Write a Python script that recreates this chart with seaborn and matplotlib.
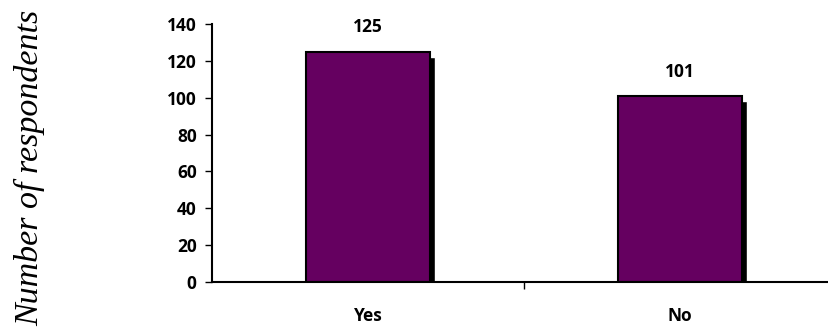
import matplotlib
matplotlib.use("Agg")
import matplotlib.pyplot as plt
import matplotlib.transforms as mtransforms
import seaborn as sns
import pandas as pd

categories = ["Yes", "No"]
respondents = [125, 101]
y_ticks = [0, 20, 40, 60, 80, 100, 120, 140]

sns.set_style("white", {"text.color": "black", "xtick.color": "black",
                        "ytick.color": "black", "axes.labelcolor": "black"})
plt.rcParams["font.family"] = ["Open Sans", "DejaVu Sans"]

df = pd.DataFrame({"answer": categories, "count": respondents})

fig = plt.figure(figsize=(8.29, 3.36), dpi=100)
ax = fig.add_axes([212 / 829, 54 / 336, 624 / 829, 258 / 336])

# drop shadow behind each bar, shifted right and down
shadow_offset = mtransforms.ScaledTranslation(5 / 100, -5 / 100, fig.dpi_scale_trans)
sns.barplot(data=df, x="answer", y="count", color="black", width=0.4,
            saturation=1, ax=ax, zorder=1)
for p in ax.patches:
    p.set_transform(ax.transData + shadow_offset)
    p.set_clip_on(True)
n_shadow = len(ax.patches)

sns.barplot(data=df, x="answer", y="count", color="#650060", width=0.4,
            saturation=1, ax=ax, edgecolor="black", linewidth=1.5, zorder=2)

for p, v in zip(ax.patches[n_shadow:], respondents):
    ax.annotate(f"{v}", (p.get_x() + p.get_width() / 2, v),
                xytext=(0, 11), textcoords="offset points",
                ha="center", va="bottom", fontsize=12.5, fontweight="bold",
                color="black")

ax.set_xlim(-0.5, 1.5)
ax.set_ylim(0, 140)
ax.set_yticks(y_ticks)
ax.set_xticks([0.5], minor=True)
ax.tick_params(axis="x", which="minor", length=5, width=1, color="black",
               direction="out", bottom=True)
ax.tick_params(axis="x", which="major", length=0, pad=18, labelcolor="black")
ax.tick_params(axis="y", length=5, width=1, color="black", direction="out",
               left=True, pad=6, labelcolor="black")
for lab in ax.get_xticklabels() + ax.get_yticklabels():
    lab.set_fontweight("bold")
    lab.set_fontsize(12.5)

for side in ["top", "right"]:
    ax.spines[side].set_visible(False)
for side in ["left", "bottom"]:
    ax.spines[side].set_color("black")
    ax.spines[side].set_linewidth(1.5)

ax.set_xlabel("")
ax.set_ylabel("")
fig.text(30 / 829, 0.5, "Number of respondents", rotation=90, ha="center",
         va="center", fontsize=24.5, fontstyle="italic", color="black",
         family=["Liberation Serif", "DejaVu Serif"])

fig.savefig("out.png", dpi=100)
